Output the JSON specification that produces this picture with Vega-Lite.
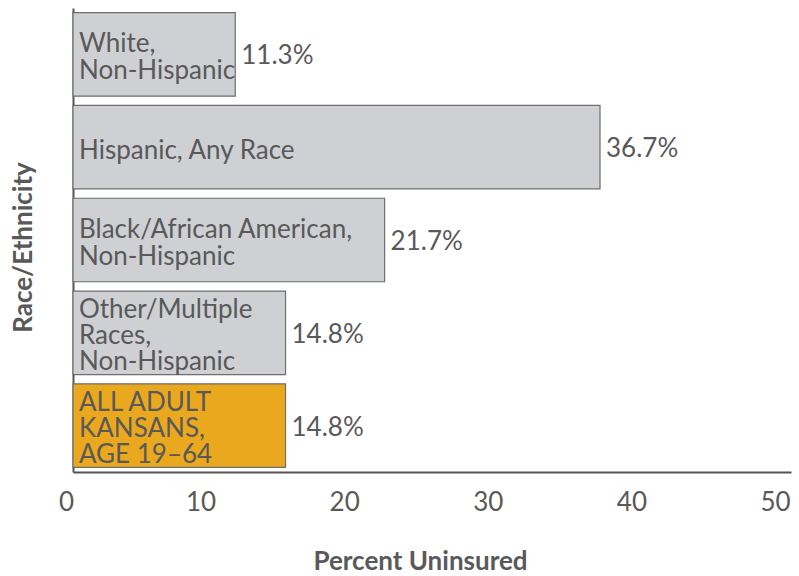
{
  "$schema": "https://vega.github.io/schema/vega-lite/v6.json",
  "autosize": "none",
  "width": 718,
  "height": 464,
  "padding": {"left": 73, "top": 8, "right": 8, "bottom": 104},
  "background": "white",
  "config": {
    "font": "Lato",
    "view": {"stroke": null}
  },
  "data": {
    "values": [
      {"category": "White, Non-Hispanic", "name": "White,|Non-Hispanic", "value": 11.3, "label": "11.3%", "kind": "Group"},
      {"category": "Hispanic, Any Race", "name": "Hispanic, Any Race", "value": 36.7, "label": "36.7%", "kind": "Group"},
      {"category": "Black/African American, Non-Hispanic", "name": "Black/African American,|Non-Hispanic", "value": 21.7, "label": "21.7%", "kind": "Group"},
      {"category": "Other/Multiple Races, Non-Hispanic", "name": "Other/Multiple|Races,|Non-Hispanic", "value": 14.8, "label": "14.8%", "kind": "Group"},
      {"category": "All Adult Kansans, Age 19-64", "name": "ALL ADULT|KANSANS,|AGE 19–64", "value": 14.8, "label": "14.8%", "kind": "Total"}
    ]
  },
  "encoding": {
    "y": {
      "field": "category",
      "type": "nominal",
      "sort": null,
      "scale": {"paddingInner": 0.1, "paddingOuter": 0.05},
      "axis": {
        "title": "Race/Ethnicity",
        "labels": false,
        "ticks": false,
        "domainColor": "#555555",
        "domainWidth": 2,
        "titleFont": "Lato",
        "titleFontSize": 26,
        "titleFontWeight": "bold",
        "titleColor": "#595959",
        "titlePadding": 37,
        "titleY": 239
      }
    }
  },
  "layer": [
    {
      "mark": {"type": "bar", "stroke": "#6e6e6e", "strokeWidth": 1.2},
      "encoding": {
        "x": {
          "field": "value",
          "type": "quantitative",
          "scale": {"domain": [0, 50], "nice": false},
          "axis": {
            "title": "Percent Uninsured",
            "values": [0, 10, 20, 30, 40, 50],
            "grid": false,
            "ticks": false,
            "domainColor": "#555555",
            "domainWidth": 2,
            "labelFont": "Lato",
            "labelFontSize": 26,
            "labelColor": "#595959",
            "labelPadding": 17,
            "labelOffset": {"condition": {"test": "datum.value == 0", "value": -7}, "value": -16},
            "labelFlush": false,
            "titleFont": "Lato",
            "titleFontSize": 26,
            "titleFontWeight": "bold",
            "titleColor": "#595959",
            "titlePadding": 33,
            "titleX": 347
          }
        },
        "color": {
          "field": "kind",
          "type": "nominal",
          "scale": {"domain": ["Group", "Total"], "range": ["#CED0D4", "#EAA81F"]},
          "legend": null
        }
      }
    },
    {
      "transform": [{"filter": "length(split(datum.name, '|')) == 1"}],
      "mark": {"type": "text", "align": "left", "baseline": "middle", "dx": 6, "dy": 4, "fontSize": 26, "lineHeight": 27, "lineBreak": "|", "color": "#595959", "font": "Lato"},
      "encoding": {
        "x": {"datum": 0, "type": "quantitative"},
        "text": {"field": "name"}
      }
    },
    {
      "transform": [{"filter": "length(split(datum.name, '|')) == 2"}],
      "mark": {"type": "text", "align": "left", "baseline": "middle", "dx": 6, "dy": -10, "fontSize": 26, "lineHeight": 27, "lineBreak": "|", "color": "#595959", "font": "Lato"},
      "encoding": {
        "x": {"datum": 0, "type": "quantitative"},
        "text": {"field": "name"}
      }
    },
    {
      "transform": [{"filter": "length(split(datum.name, '|')) == 3"}],
      "mark": {"type": "text", "align": "left", "baseline": "middle", "dx": 6, "dy": -23, "fontSize": 26, "lineHeight": 26, "lineBreak": "|", "color": "#595959", "font": "Lato"},
      "encoding": {
        "x": {"datum": 0, "type": "quantitative"},
        "text": {"field": "name"}
      }
    },
    {
      "mark": {"type": "text", "align": "left", "baseline": "middle", "dx": 6, "dy": 2, "fontSize": 26, "color": "#595959", "font": "Lato"},
      "encoding": {
        "x": {"field": "value", "type": "quantitative"},
        "text": {"field": "label"}
      }
    }
  ]
}
